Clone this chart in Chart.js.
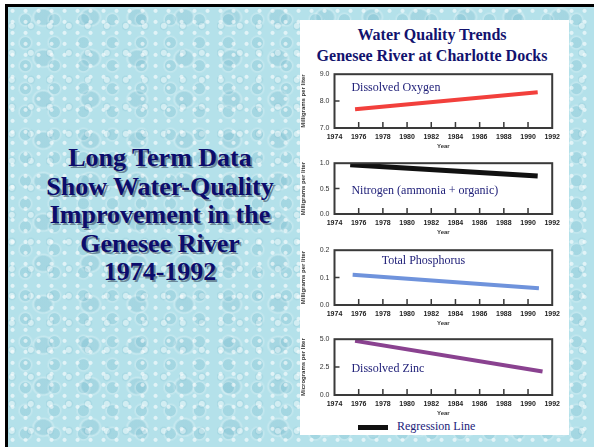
<!DOCTYPE html>
<html>
<head>
<meta charset="utf-8">
<script src="https://cdn.jsdelivr.net/npm/chart.js@4.4.1/dist/chart.umd.min.js"></script>
<style>
  html, body { margin: 0; padding: 0; }
  body { width: 594px; height: 447px; position: relative; overflow: hidden; background: #fff; }
  #slide {
    position: absolute; left: 5px; top: 4px; width: 589px; height: 443px;
    border-left: 3px solid #000; border-top: 3px solid #000; box-sizing: border-box;
    background-color: #b4e1ea;
    background-image:
      radial-gradient(circle at 35% 35%, rgba(255,255,255,0.6) 0 1.5px, transparent 2.5px),
      radial-gradient(circle at 60% 55%, rgba(80,160,185,0.16) 0 5px, rgba(255,255,255,0.22) 6px, transparent 8px),
      radial-gradient(circle at 20% 70%, rgba(255,255,255,0.4) 0 2.5px, rgba(100,170,190,0.16) 3.5px, transparent 5px),
      radial-gradient(ellipse at 75% 25%, rgba(70,150,175,0.14) 0 8px, rgba(255,255,255,0.25) 10px, transparent 12px);
    background-size: 13px 11px, 29px 23px, 19px 27px, 47px 41px;
  }
  #headline {
    position: absolute; left: 20px; width: 280px; top: 144px; text-align: center;
    font: bold 26px "Liberation Serif", "Times New Roman", serif; line-height: 28.5px;
    color: #0c0c6c; text-shadow: 2px 2px 0 rgba(60,80,100,0.6);
  }
  #panel { position: absolute; left: 300px; top: 20px; width: 269px; height: 415px; background: #fff; }
  #title {
    position: absolute; left: 300px; width: 264px; top: 24px; text-align: center;
    font: bold 16px "Liberation Serif", "Times New Roman", serif; line-height: 21px; color: #12126e;
  }
  canvas { position: absolute; }
  #legend { position: absolute; left: 358px; top: 419px; font: 12px "Liberation Serif", serif; color: #22227a; }
  #legend span.sw { display: inline-block; width: 30px; height: 5px; background: #111; vertical-align: middle; margin-right: 9px; }
</style>
</head>
<body>
<div id="slide"></div>
<div id="headline">Long Term Data<br>Show Water-Quality<br>Improvement in the<br>Genesee River<br>1974-1992</div>
<div id="panel"></div>
<div id="title">Water Quality Trends<br>Genesee River at Charlotte Docks</div>
<canvas id="c1"></canvas>
<canvas id="c2"></canvas>
<canvas id="c3"></canvas>
<canvas id="c4"></canvas>
<div id="legend"><span class="sw"></span>Regression Line</div>
<script>
// tick labels along the year axis
var yearTicks = [1974, 1976, 1978, 1980, 1982, 1984, 1986, 1988, 1990, 1992];

// regression lines: start and end year, value at each end
var oxygenYears = [1975.7, 1990.8];
var oxygenValues = [7.7, 8.33];
var nitrogenYears = [1975.3, 1990.8];
var nitrogenValues = [0.97, 0.75];
var phosphorusYears = [1975.5, 1990.9];
var phosphorusValues = [0.11, 0.061];
var zincYears = [1975.7, 1991.2];
var zincValues = [4.85, 2.1];

// y tick labels
var oxygenTicks = [7.0, 8.0, 9.0];
var nitrogenTicks = [0.0, 0.5, 1.0];
var phosphorusTicks = [0.0, 0.1, 0.2];
var zincTicks = [0.0, 2.5, 5.0];

var framePlugin = {
  id: "frame",
  afterDatasetsDraw: function (chart) {
    var ctx = chart.ctx;
    var a = chart.chartArea;
    var xs = chart.scales.x;
    var ys = chart.scales.y;
    ctx.save();
    ctx.strokeStyle = "#3a3a3a";
    ctx.lineWidth = 2;
    ctx.strokeRect(a.left, a.top, a.right - a.left, a.bottom - a.top);
    ctx.lineWidth = 1.5;
    ctx.beginPath();
    xs.ticks.forEach(function (t, i) {
      if (i === 0 || i === xs.ticks.length - 1) return;
      var px = xs.getPixelForValue(t.value);
      ctx.moveTo(px, a.bottom);
      ctx.lineTo(px, a.bottom - 6);
    });
    ys.ticks.forEach(function (t, i) {
      if (i === 0 || i === ys.ticks.length - 1) return;
      var py = ys.getPixelForValue(t.value);
      ctx.moveTo(a.left, py);
      ctx.lineTo(a.left + 5, py);
    });
    ctx.stroke();
    var opt = chart.options.plugins.frame;
    ctx.fillStyle = "#22227a";
    ctx.font = '12px "Liberation Serif", serif';
    ctx.textBaseline = "middle";
    ctx.fillText(opt.label, xs.getPixelForValue(opt.labelAt[0]), ys.getPixelForValue(opt.labelAt[1]));
    ctx.restore();
  }
};

function makeChart(id, top, bottom, years, values, ticks, color, width, label, labelAt, yTitle) {
  var el = document.getElementById(id);
  var h = bottom - top + 8 + 22;
  el.style.left = "300px";
  el.style.top = (top - 8) + "px";
  el.width = 265;
  el.height = h;
  el.style.width = "265px";
  el.style.height = h + "px";
  var pts = years.map(function (y, i) { return { x: y, y: values[i] }; });
  return new Chart(el, {
    type: "line",
    data: {
      datasets: [{
        data: pts,
        borderColor: color,
        borderWidth: width,
        pointRadius: 0,
        borderCapStyle: "butt",
        tension: 0
      }]
    },
    plugins: [framePlugin],
    options: {
      responsive: false,
      animation: false,
      layout: { padding: { top: 8, right: 10, left: 0, bottom: 0 } },
      plugins: {
        legend: { display: false },
        tooltip: { enabled: false },
        frame: { label: label, labelAt: labelAt }
      },
      scales: {
        x: {
          type: "linear",
          min: 1974,
          max: 1992,
          afterBuildTicks: function (s) { s.ticks = yearTicks.map(function (v) { return { value: v }; }); },
          afterFit: function (s) { s.height = 22; },
          grid: { display: false, drawTicks: false },
          border: { display: false },
          ticks: { color: "#222", font: { size: 7, weight: "bold", family: "Liberation Sans" }, padding: 5, maxRotation: 0,
                   callback: function (v) { return String(v); } },
          title: { display: true, text: "Year", color: "#333", font: { size: 6, weight: "bold", family: "Liberation Sans" }, padding: 0 }
        },
        y: {
          min: ticks[0],
          max: ticks[ticks.length - 1],
          afterBuildTicks: function (s) { s.ticks = ticks.map(function (v) { return { value: v }; }); },
          afterFit: function (s) { s.width = 34.5; },
          grid: { display: false, drawTicks: false },
          border: { display: false },
          ticks: { color: "#333", font: { size: 7, family: "Liberation Sans" }, padding: 5,
                   callback: function (v) { return Number(v).toFixed(1); } },
          title: { display: true, text: yTitle, color: "#333", font: { size: 6, weight: "bold", family: "Liberation Sans" }, padding: 0 }
        }
      }
    }
  });
}

makeChart("c1", 73, 128, oxygenYears, oxygenValues, oxygenTicks, "#f2403c", 4,
  "Dissolved Oxygen", [1975.4, 8.49], "Milligrams per liter");
makeChart("c2", 162, 214, nitrogenYears, nitrogenValues, nitrogenTicks, "#111", 5,
  "Nitrogen (ammonia + organic)", [1975.4, 0.46], "Milligrams per liter");
makeChart("c3", 249, 305, phosphorusYears, phosphorusValues, phosphorusTicks, "#6f93dc", 4,
  "Total Phosphorus", [1977.9, 0.161], "Milligrams per liter");
makeChart("c4", 338, 395, zincYears, zincValues, zincTicks, "#8a4290", 4,
  "Dissolved Zinc", [1975.4, 2.37], "Micrograms per liter");
</script>
</body>
</html>
